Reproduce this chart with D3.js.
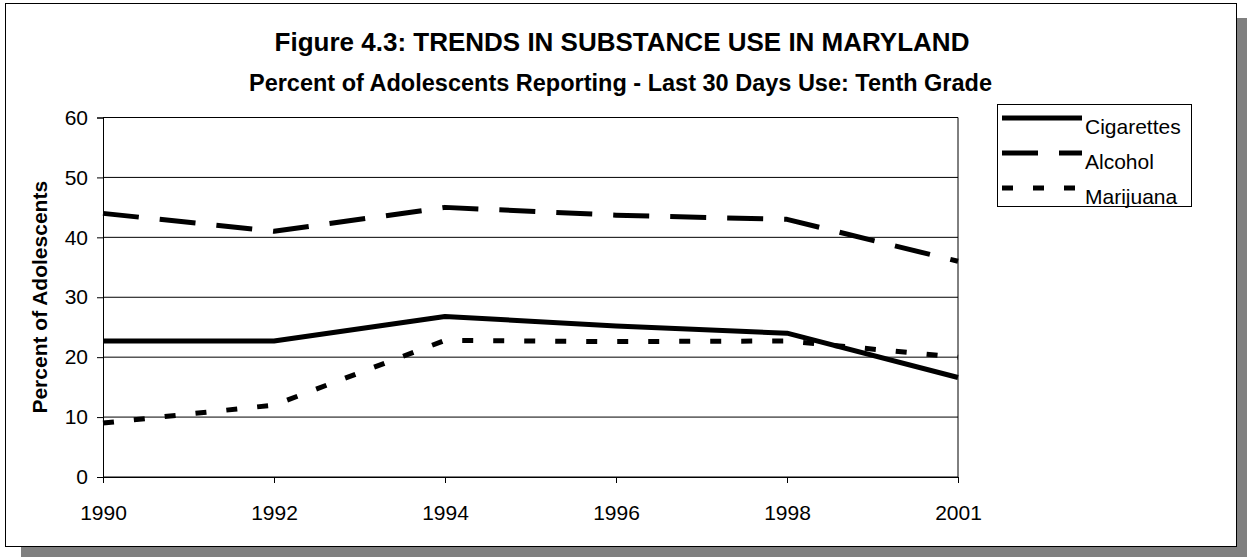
<!DOCTYPE html>
<html>
<head>
<meta charset="utf-8">
<script src="https://cdn.jsdelivr.net/npm/d3@7"></script>
<style>
  html, body { margin: 0; padding: 0; background: #fff; }
  svg text { font-family: "Liberation Sans", Arial, sans-serif; fill: #000; }
</style>
</head>
<body>
<svg id="chart" width="1251" height="558"></svg>
<script>
// Survey years (evenly spaced categories) and percentages by substance
const years = ["1990", "1992", "1994", "1996", "1998", "2001"];
const cigarettes = [22.7, 22.7, 26.8, 25.2, 24.0, 16.6];
const alcohol    = [44.0, 41.0, 45.0, 43.7, 43.0, 36.0];
const marijuana  = [9.0, 12.0, 22.8, 22.6, 22.7, 20.0];
const seriesNames = ["Cigarettes", "Alcohol", "Marijuana"];
const yTicks = [0, 10, 20, 30, 40, 50, 60];

const titleText = "Figure 4.3: TRENDS IN SUBSTANCE USE IN MARYLAND";
const subtitleText = "Percent of Adolescents Reporting - Last 30 Days Use: Tenth Grade";
const yLabelText = "Percent of Adolescents";

const series = [
  { name: seriesNames[0], values: cigarettes, dash: null },
  { name: seriesNames[1], values: alcohol,    dash: "36,21" },
  { name: seriesNames[2], values: marijuana,  dash: "11,20" }
];

const svg = d3.select("#chart");

// Outer frame with drop shadow
svg.append("rect").attr("x", 21).attr("y", 18).attr("width", 1226).attr("height", 539)
  .attr("fill", "#808080");
svg.append("rect").attr("x", 5.5).attr("y", 3.5).attr("width", 1231).attr("height", 543)
  .attr("fill", "#fff").attr("stroke", "#000").attr("stroke-width", 1);

const plot = { left: 103, right: 958, top: 117.5, bottom: 477 };

const x = d3.scalePoint().domain(years).range([plot.left, plot.right]);
const y = d3.scaleLinear().domain([0, 60]).range([plot.bottom, plot.top]);

// Horizontal gridlines
svg.append("g").selectAll("line").data(yTicks).join("line")
  .attr("x1", plot.left).attr("x2", plot.right)
  .attr("y1", d => y(d)).attr("y2", d => y(d))
  .attr("stroke", "#000").attr("stroke-width", 1);

// Right edge of plot area
svg.append("line").attr("x1", plot.right).attr("x2", plot.right)
  .attr("y1", plot.top).attr("y2", plot.bottom)
  .attr("stroke", "#000").attr("stroke-width", 1);

// Y axis
const yAxis = d3.axisLeft(y).tickValues(yTicks).tickSize(6).tickPadding(9);
const gy = svg.append("g").attr("transform", `translate(${plot.left},0)`).call(yAxis);
gy.select(".domain").attr("stroke", "#000");
gy.selectAll(".tick line").attr("stroke", "#000");
gy.selectAll("text").attr("font-size", 21).attr("font-family", "Liberation Sans, Arial, sans-serif");

// X axis
const xAxis = d3.axisBottom(x).tickSize(6).tickPadding(22);
const gx = svg.append("g").attr("transform", `translate(0,${plot.bottom})`).call(xAxis);
gx.select(".domain").attr("stroke", "#000");
gx.selectAll(".tick line").attr("stroke", "#000");
gx.selectAll("text").attr("font-size", 21).attr("font-family", "Liberation Sans, Arial, sans-serif");

// Data lines
const line = d3.line().x((d, i) => x(years[i])).y(d => y(d));
svg.append("g").selectAll("path").data(series).join("path")
  .attr("d", d => line(d.values))
  .attr("fill", "none")
  .attr("stroke", "#000")
  .attr("stroke-width", 5)
  .attr("stroke-dasharray", d => d.dash)
  .attr("stroke-linejoin", "round")
  .attr("stroke-linecap", "butt");

// Titles
svg.append("text").attr("x", 622).attr("y", 51).attr("text-anchor", "middle")
  .attr("font-size", 26).attr("font-weight", "bold").text(titleText);
svg.append("text").attr("x", 620.5).attr("y", 91).attr("text-anchor", "middle")
  .attr("font-size", 23.5).attr("font-weight", "bold").text(subtitleText);

// Y axis title
svg.append("text")
  .attr("transform", `translate(46.5,${(plot.top + plot.bottom) / 2}) rotate(-90)`)
  .attr("text-anchor", "middle")
  .attr("font-size", 21).attr("font-weight", "bold").text(yLabelText);

// Legend: sample line sits level with the top of each label
const legend = svg.append("g");
legend.append("rect").attr("x", 997.5).attr("y", 104.5).attr("width", 194).attr("height", 102)
  .attr("fill", "#fff").attr("stroke", "#000").attr("stroke-width", 1);
const rows = legend.selectAll("g.row").data(series).join("g")
  .attr("class", "row")
  .attr("transform", (d, i) => `translate(0,${118 + i * 35})`);
rows.append("line").attr("x1", 1002).attr("x2", 1082).attr("y1", 0).attr("y2", 0)
  .attr("stroke", "#000").attr("stroke-width", 5)
  .attr("stroke-dasharray", d => d.dash);
rows.append("text").attr("x", 1085).attr("y", 15.5)
  .attr("font-size", 21).text(d => d.name);
</script>
</body>
</html>
